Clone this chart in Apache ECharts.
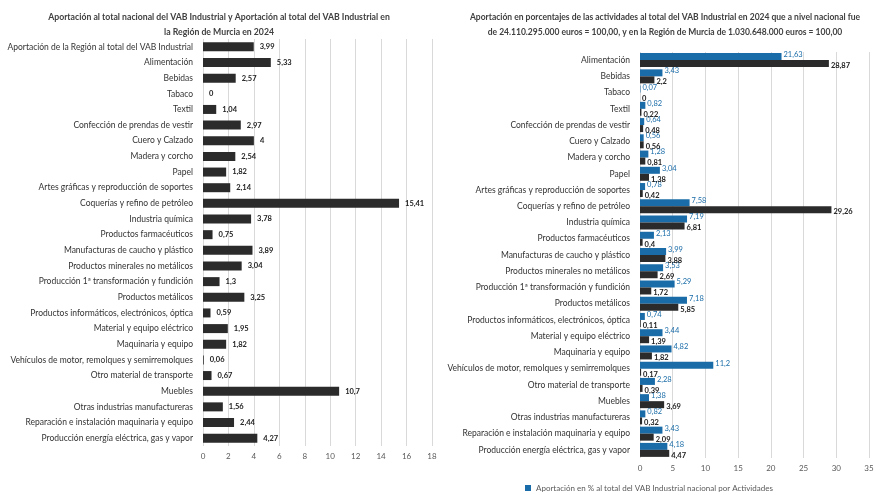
<!DOCTYPE html>
<html>
<head>
<meta charset="utf-8">
<script src="https://cdn.jsdelivr.net/npm/echarts@6/dist/echarts.min.js"></script>
<style>
  html, body { margin: 0; padding: 0; background: #fff; }
  #chart { width: 880px; height: 495px; }
</style>
</head>
<body>
<div id="chart"></div>
<script>
// datos: gráfico izquierdo
const catsLeft = [
  'Aportación de la Región al total del VAB Industrial',
  'Alimentación', 'Bebidas', 'Tabaco', 'Textil',
  'Confección de prendas de vestir', 'Cuero y Calzado', 'Madera y corcho', 'Papel',
  'Artes gráficas y reproducción de soportes', 'Coquerías y refino de petróleo',
  'Industria química', 'Productos farmacéuticos', 'Manufacturas de caucho y plástico',
  'Productos minerales no metálicos', 'Producción 1ª transformación y fundición',
  'Productos metálicos', 'Productos informáticos, electrónicos, óptica',
  'Material y equipo eléctrico', 'Maquinaria y equipo',
  'Vehículos de motor, remolques y semirremolques', 'Otro material de transporte',
  'Muebles', 'Otras industrias manufactureras',
  'Reparación e instalación maquinaria y equipo', 'Producción energía eléctrica, gas y vapor'
];
const valsLeft = [3.99, 5.33, 2.57, 0, 1.04, 2.97, 4, 2.54, 1.82, 2.14, 15.41, 3.78, 0.75,
  3.89, 3.04, 1.3, 3.25, 0.59, 1.95, 1.82, 0.06, 0.67, 10.7, 1.56, 2.44, 4.27];

// datos: gráfico derecho
const catsRight = catsLeft.slice(1);
const valsNacional = [21.63, 3.43, 0.07, 0.82, 0.64, 0.56, 1.28, 3.04, 0.78, 7.58, 7.19, 2.13,
  3.99, 3.53, 5.29, 7.18, 0.74, 3.44, 4.82, 11.2, 2.28, 1.38, 0.82, 3.43, 4.18];
const valsMurcia = [28.87, 2.2, 0, 0.22, 0.48, 0.56, 0.81, 1.38, 0.42, 29.26, 6.81, 0.4,
  3.88, 2.69, 1.72, 5.85, 0.11, 1.39, 1.82, 0.17, 0.39, 3.69, 0.32, 2.09, 4.47];

const titleLeft = 'Aportación al total nacional del VAB Industrial y Aportación al total del VAB Industrial en\nla Región de Murcia en 2024';
const titleRight = 'Aportación en porcentajes de las actividades al total del VAB Industrial en 2024 que a nivel nacional fue\nde 24.110.295.000 euros = 100,00, y en la Región de Murcia de 1.030.648.000 euros = 100,00';
const nameNacional = 'Aportación en % al total del VAB Industrial nacional por Actividades';
const nameMurcia = 'Aportación en % al total del VAB Industrial de Murcia por Actividades';

const FONT = 'Lato';
const DARK = '#2b2b2b';
const BLUE = '#1a6ca8';
const comma = p => String(p.value).replace('.', ',');

var myChart = echarts.init(document.getElementById('chart'));

var option = {
  textStyle: { fontFamily: FONT },
  animation: false,
  title: [
    { text: titleLeft, left: 214, top: 5, textAlign: 'center',
      textStyle: { fontSize: 8.7, fontWeight: 'bold', color: '#404040', lineHeight: 15, fontFamily: FONT } },
    { text: titleRight, left: 660, top: 5, textAlign: 'center',
      textStyle: { fontSize: 8.5, fontWeight: 'bold', color: '#404040', lineHeight: 15, fontFamily: FONT } }
  ],
  legend: {
    data: [nameNacional],
    left: 520, top: 479,
    itemWidth: 6, itemHeight: 6, icon: 'rect',
    textStyle: { fontSize: 8, color: '#595959', fontFamily: FONT }
  },
  grid: [
    { left: 203, right: 448, top: 39, bottom: 49, outerBoundsMode: 'none' },
    { left: 640, right: 11, top: 52, bottom: 37, outerBoundsMode: 'none' }
  ],
  xAxis: [
    { gridIndex: 0, type: 'value', min: 0, max: 18, interval: 2,
      axisLine: { show: false }, axisTick: { show: false },
      splitLine: { lineStyle: { color: '#d9d9d9' } },
      axisLabel: { fontSize: 8, color: '#595959', margin: 6 } },
    { gridIndex: 1, type: 'value', min: 0, max: 35, interval: 5,
      axisLine: { show: false }, axisTick: { show: false },
      splitLine: { lineStyle: { color: '#d9d9d9' } },
      axisLabel: { fontSize: 8, color: '#595959', margin: 6 } }
  ],
  yAxis: [
    { gridIndex: 0, type: 'category', data: catsLeft, inverse: true,
      axisLine: { show: false }, axisTick: { show: false },
      axisLabel: { fontSize: 8.5, color: '#333', margin: 10, interval: 0 } },
    { gridIndex: 1, type: 'category', data: catsRight, inverse: true,
      axisLine: { show: false }, axisTick: { show: false },
      axisLabel: { fontSize: 8.5, color: '#333', margin: 10, interval: 0 } }
  ],
  series: [
    { name: 'Aportación de Murcia al total nacional', type: 'bar', xAxisIndex: 0, yAxisIndex: 0,
      data: valsLeft, barWidth: 9, itemStyle: { color: DARK },
      label: { show: true, position: 'right', distance: 6, formatter: comma,
        fontSize: 7.5, fontWeight: 'bold', color: '#222' } },
    { name: nameNacional, type: 'bar', xAxisIndex: 1, yAxisIndex: 1,
      data: valsNacional, barWidth: 7, barGap: '0%', itemStyle: { color: BLUE },
      label: { show: true, position: 'right', distance: 2, offset: [0, -2], formatter: comma,
        fontSize: 7.5, color: BLUE } },
    { name: nameMurcia, type: 'bar', xAxisIndex: 1, yAxisIndex: 1,
      data: valsMurcia, barWidth: 7, barGap: '0%', itemStyle: { color: DARK },
      label: { show: true, position: 'right', distance: 2, offset: [0, 2], formatter: comma,
        fontSize: 7.5, fontWeight: 'bold', color: '#222' } }
  ]
};

myChart.setOption(option);
</script>
</body>
</html>
